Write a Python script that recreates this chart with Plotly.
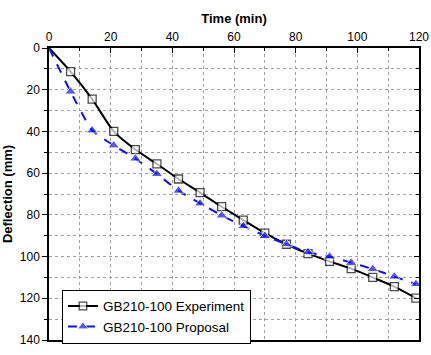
import plotly.graph_objects as go

time_min = [0, 7, 14, 21, 28, 35, 42, 49, 56, 63, 70, 77, 84, 91, 98, 105, 112, 119]
experiment = [0, 11.3, 24.5, 40.0, 48.7, 55.6, 62.8, 69.3, 76.1, 82.5, 88.8, 94.1, 98.6, 102.3, 105.8, 110.0, 114.4, 119.9]
proposal = [0, 20.9, 39.5, 46.7, 53.0, 60.4, 68.4, 74.5, 80.3, 85.4, 90.1, 94.1, 97.9, 100.0, 102.9, 106.0, 109.6, 113.2]
x_ticks = [0, 20, 40, 60, 80, 100, 120]
y_ticks = [0, 20, 40, 60, 80, 100, 120, 140]

exp_sizes = [0] + [8] * (len(time_min) - 1)
prop_sizes = [0] + [10] * (len(time_min) - 1)

fig = go.Figure()
fig.add_trace(go.Scatter(
    x=time_min, y=experiment, name="GB210-100 Experiment",
    mode="lines+markers",
    line=dict(color="black", width=2, shape="spline", smoothing=0.6),
    marker=dict(symbol="square", size=exp_sizes, color="white",
                line=dict(color="black", width=1.3)),
))
fig.add_trace(go.Scatter(
    x=time_min, y=proposal, name="GB210-100 Proposal",
    mode="lines+markers",
    line=dict(color="#1010f0", width=2, dash="dash", shape="spline", smoothing=0.5),
    marker=dict(symbol="triangle-up", size=prop_sizes, color="#1010f0"),
))

grid = dict(showgrid=True, gridcolor="#a0a0a0", griddash="dot", gridwidth=1)

fig.update_layout(
    width=431, height=355,
    margin=dict(l=49, r=12, t=48, b=14),
    paper_bgcolor="white", plot_bgcolor="white",
    font=dict(family="Arial, Liberation Sans, sans-serif", color="black", size=12),
    xaxis=dict(
        side="top", range=[0, 120], tickvals=x_ticks, automargin=False,
        ticks="inside", ticklen=5, tickwidth=1.3, tickcolor="black",
        showline=True, linecolor="black", linewidth=1.5, mirror=True,
        zeroline=False,
        title=dict(text="<b>Time (min)</b>", font=dict(size=13), standoff=4),
        minor=dict(dtick=10, ticks="inside", ticklen=3, tickcolor="black", **grid),
        **grid,
    ),
    yaxis=dict(
        range=[140, 0], tickvals=y_ticks, automargin=False,
        ticks="outside", ticklen=5, tickwidth=1.3, tickcolor="black",
        showline=True, linecolor="black", linewidth=1.5, mirror=True,
        zeroline=False,
        title=dict(text="<b>Deflection (mm)</b>", font=dict(size=13), standoff=6),
        minor=dict(dtick=10, ticks="outside", ticklen=3, tickcolor="black", **grid),
        **grid,
    ),
    yaxis2=dict(
        overlaying="y", side="right", range=[140, 0], tickvals=y_ticks,
        ticks="inside", ticklen=5, tickwidth=1.3, tickcolor="black",
        showticklabels=False, showgrid=False, zeroline=False, automargin=False,
        minor=dict(dtick=10, ticks="inside", ticklen=3, tickcolor="black"),
    ),
    legend=dict(
        x=0.035, y=0.175, xanchor="left", yanchor="top",
        bgcolor="white", bordercolor="black", borderwidth=1,
        font=dict(size=13.5), tracegroupgap=0, itemwidth=30,
    ),
    showlegend=True,
)
fig.add_trace(go.Scatter(x=[None], y=[None], yaxis="y2", showlegend=False, hoverinfo="skip"))

fig.write_html(
    "out.html",
    config={"displayModeBar": False},
    post_script="document.body.style.margin='0';document.body.style.padding='0';",
)
